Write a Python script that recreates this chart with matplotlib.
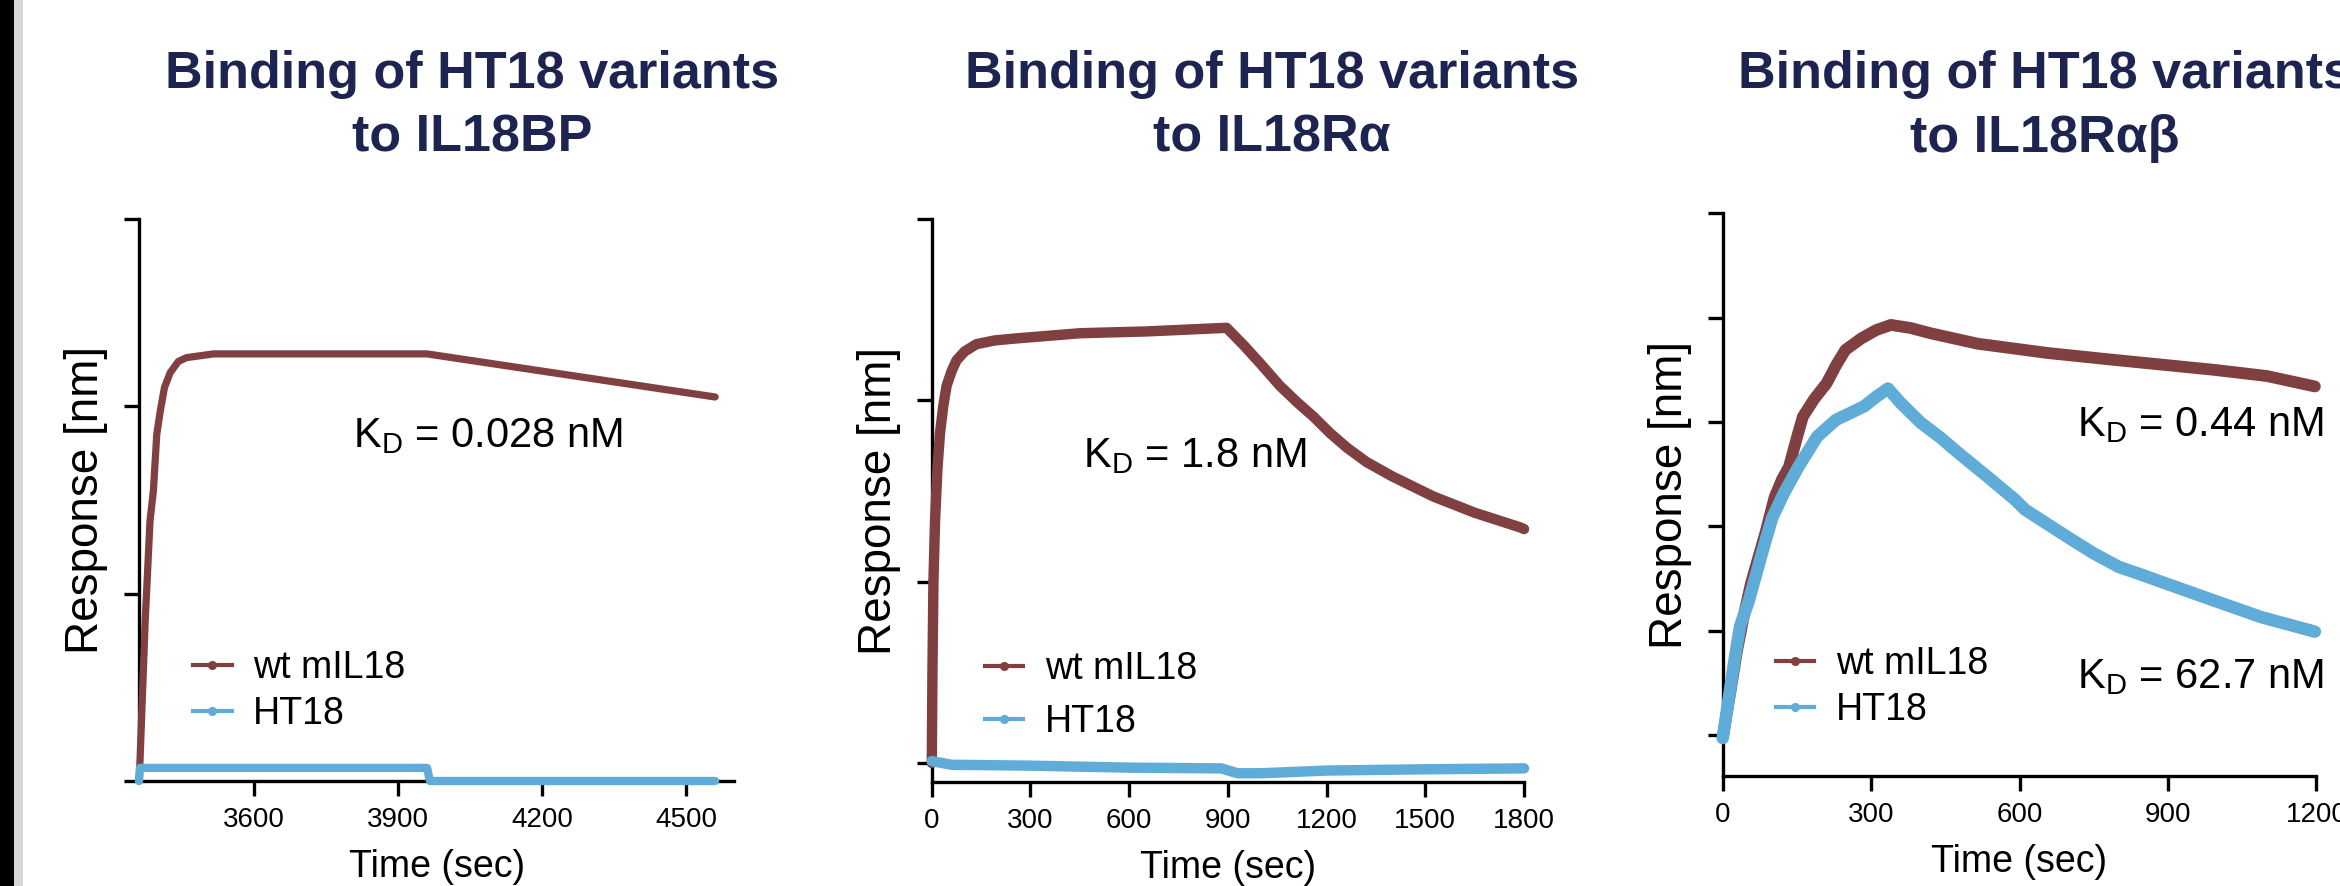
import matplotlib
matplotlib.use("Agg")
import matplotlib.pyplot as plt
from matplotlib.lines import Line2D
from matplotlib.patches import Rectangle

plt.rcParams.update({
    "font.family": ["Liberation Sans", "DejaVu Sans"],
    "axes.linewidth": 2.4,
})

WT = "#803f40"
HT = "#60acd8"
NAVY = "#1e2452"

# --- IL18BP (association 600 s from t=3360, then dissociation) ---
bp_wt_t = [3360, 3362, 3373, 3383, 3390, 3397, 3404, 3413, 3425, 3442, 3459,
           3515, 3960, 4560]
bp_wt_y = [0.0, 0.10, 0.86, 1.39, 1.55, 1.85, 1.97, 2.10, 2.18, 2.24, 2.26,
           2.28, 2.28, 2.05]
bp_ht_t = [3360, 3362, 3960, 3966, 4560]
bp_ht_y = [0.0, 0.07, 0.07, 0.0, 0.0]

# --- IL18Ra ---
ra_wt_t = [0, 2, 5, 10, 17, 25, 35, 45, 60, 75, 100, 136, 190, 247, 450, 653,
           896, 950, 1000, 1058, 1110, 1160, 1210, 1261, 1321, 1400, 1524,
           1650, 1787, 1800]
ra_wt_y = [0.0, 0.5, 1.0, 1.34, 1.62, 1.82, 1.97, 2.08, 2.16, 2.22, 2.27,
           2.31, 2.33, 2.34, 2.37, 2.38, 2.40, 2.30, 2.20, 2.08, 1.99, 1.91,
           1.82, 1.74, 1.66, 1.58, 1.47, 1.38, 1.30, 1.29]
ra_ht_t = [0, 60, 300, 600, 880, 930, 1000, 1200, 1500, 1800]
ra_ht_y = [0.01, -0.01, -0.015, -0.026, -0.03, -0.057, -0.057, -0.042,
           -0.035, -0.03]

# --- IL18Rab ---
rab_wt_t = [0, 15, 29, 43, 57, 72, 86, 105, 120, 134, 150, 162, 185, 210,
            230, 248, 280, 310, 340, 380, 420, 515, 658, 801, 992, 1100, 1197]
rab_wt_y = [-0.03, 0.40, 0.81, 1.15, 1.45, 1.70, 1.93, 2.28, 2.45, 2.57,
            2.85, 3.05, 3.22, 3.37, 3.55, 3.69, 3.80, 3.88, 3.93, 3.90, 3.85,
            3.75, 3.66, 3.59, 3.50, 3.44, 3.34]
rab_ht_t = [0, 24, 35, 53, 81, 100, 124, 153, 191, 229, 260, 286, 310, 334,
            360, 401, 440, 477, 534, 592, 611, 660, 706, 750, 801, 850, 897,
            992, 1088, 1150, 1197]
rab_ht_y = [-0.03, 0.72, 1.04, 1.29, 1.77, 2.08, 2.32, 2.57, 2.86, 3.02,
            3.09, 3.15, 3.24, 3.32, 3.18, 2.99, 2.85, 2.70, 2.48, 2.25, 2.16,
            2.01, 1.87, 1.74, 1.61, 1.53, 1.45, 1.29, 1.13, 1.05, 0.99]

fig = plt.figure(figsize=(23.4, 8.86), dpi=100)
fig.add_artist(Rectangle((0, 0), 14 / 2340, 1, transform=fig.transFigure,
                         facecolor="black", edgecolor="none", zorder=10))
fig.add_artist(Rectangle((14 / 2340, 0), 9 / 2340, 1,
                         transform=fig.transFigure, facecolor="#d8d8d8",
                         edgecolor="none", zorder=10))

panels = [
    dict(rect=[0.0594, 0.1185, 0.2544, 0.6343], xlim=(3360, 4600),
         ylim=(0, 3), xt=[3600, 3900, 4200, 4500], yt=[0, 1, 2, 3],
         wt=(bp_wt_t, bp_wt_y), ht=(bp_ht_t, bp_ht_y), lw=(5.2, 6.0),
         title=("Binding of HT18 variants", "to IL18BP"), tx=472,
         kd=[(3806, 1.78, "0.028")], leg=(193.3, 691.4, 0.27)),
    dict(rect=[0.3982, 0.1174, 0.2531, 0.6354], xlim=(0, 1800),
         ylim=(-0.105, 3), xt=range(0, 1801, 300), yt=[0, 1, 2, 3],
         wt=(ra_wt_t, ra_wt_y), ht=(ra_ht_t, ra_ht_y), lw=(7.5, 7.5),
         title=("Binding of HT18 variants", "to IL18R\u03b1"), tx=1272,
         kd=[(460, 1.63, "1.8")], leg=(984.7, 695.4, 0.45)),
    dict(rect=[0.7362, 0.1242, 0.2537, 0.6351], xlim=(0, 1200),
         ylim=(-0.393, 5), xt=range(0, 1201, 300), yt=range(6),
         wt=(rab_wt_t, rab_wt_y), ht=(rab_ht_t, rab_ht_y), lw=(8.5, 9.0),
         title=("Binding of HT18 variants", "to IL18R\u03b1\u03b2"), tx=2045,
         kd=[(716, 2.86, "0.44"), (716, 0.45, "62.7")],
         leg=(1776, 686.7, 0.27)),
]

for p in panels:
    ax = fig.add_axes(p["rect"])
    ax.plot(*p["wt"], color=WT, lw=p["lw"][0], clip_on=False, zorder=3,
            solid_capstyle="round", solid_joinstyle="round")
    ax.plot(*p["ht"], color=HT, lw=p["lw"][1], clip_on=False, zorder=4,
            solid_capstyle="round", solid_joinstyle="round")
    ax.set_xlim(p["xlim"])
    ax.set_ylim(p["ylim"])
    ax.set_xticks(list(p["xt"]))
    ax.set_yticks(list(p["yt"]))
    ax.set_yticklabels([])
    ax.tick_params(axis="both", width=2.4, length=10.5)
    ax.tick_params(axis="x", labelsize=20, pad=8)
    ax.spines[["top", "right"]].set_visible(False)
    ax.set_ylabel("Response [nm]", fontsize=33, labelpad=8)
    ax.set_xlabel("Time (sec)", fontsize=27, labelpad=11.5)

    for x, y, val in p["kd"]:
        ax.text(x, y, r"K$_\mathregular{D}$ = " + val + " nM", fontsize=30,
                ha="left", va="baseline")

    handles = [Line2D([], [], color=WT, lw=3, marker="o", markersize=5.5),
               Line2D([], [], color=HT, lw=3, marker="o", markersize=5.5)]
    lx, ly, sp = p["leg"]
    fig.legend(handles, ["wt mIL18", "HT18"], loc="center left",
               bbox_to_anchor=(lx / 2340, 1 - ly / 886), frameon=False,
               fontsize=27, borderpad=0, borderaxespad=0, handlelength=1.02,
               handletextpad=0.58, labelspacing=sp)

    fig.text(p["tx"] / 2340, 1 - 88 / 886, p["title"][0], fontsize=37.5,
             fontweight="bold", color=NAVY, ha="center", va="baseline")
    fig.text(p["tx"] / 2340, 1 - 152 / 886, p["title"][1], fontsize=37.5,
             fontweight="bold", color=NAVY, ha="center", va="baseline")

fig.savefig("out.png", dpi=100)
